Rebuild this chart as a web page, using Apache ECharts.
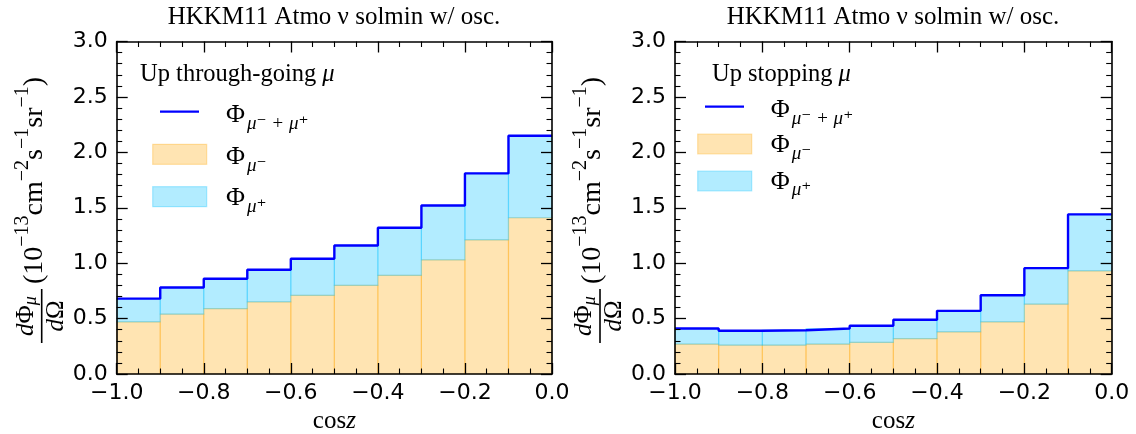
<!DOCTYPE html>
<html>
<head>
<meta charset="utf-8">
<script src="https://cdn.jsdelivr.net/npm/echarts@6/dist/echarts.min.js"></script>
<style>
html,body{margin:0;padding:0;background:#fff;}
#chart{width:1136px;height:434px;}
</style>
</head>
<body>
<div id="chart"></div>
<script>
// ---- data ----
const coszEdges = [-1.0, -0.9, -0.8, -0.7, -0.6, -0.5, -0.4, -0.3, -0.2, -0.1, 0.0];
const throughMuMinus = [0.47, 0.54, 0.59, 0.65, 0.71, 0.80, 0.89, 1.03, 1.21, 1.41];
const throughTotal   = [0.68, 0.78, 0.86, 0.94, 1.04, 1.16, 1.32, 1.52, 1.81, 2.15];
const stopMuMinus    = [0.27, 0.26, 0.26, 0.27, 0.285, 0.32, 0.38, 0.47, 0.63, 0.93];
const stopTotal      = [0.41, 0.39, 0.395, 0.41, 0.435, 0.49, 0.57, 0.71, 0.955, 1.44];
const panelTitles = ['HKKM11 Atmo ν solmin w/ osc.', 'HKKM11 Atmo ν solmin w/ osc.'];
const legendTitles = ['Up through-going', 'Up stopping'];

// ---- style ----
const SERIF = "'Liberation Serif','DejaVu Serif',serif";
const SANS = "'DejaVu Sans',sans-serif";
const ORANGE = 'rgba(255,165,0,0.3)';
const BLUE = 'rgba(0,191,255,0.3)';
const LINE = '#0000ff';

function binRects(lower, upper) {
  return coszEdges.slice(0, -1).map((e, i) => [e, coszEdges[i + 1], lower ? lower[i] : 0, upper[i]]);
}
function stepLine(total) {
  return coszEdges.map((e, i) => [e, total[Math.min(i, total.length - 1)]]);
}
function makeRender(fill) {
  return function (params, api) {
    const p0 = api.coord([api.value(0), api.value(2)]);
    const p1 = api.coord([api.value(1), api.value(3)]);
    return {
      type: 'rect',
      shape: { x: p0[0], y: p1[1], width: p1[0] - p0[0], height: p0[1] - p1[1] },
      style: { fill: fill, stroke: fill, lineWidth: 1.2 }
    };
  };
}
function fmtX(v) {
  const r = Math.round(v * 10) / 10;
  return (r < 0 ? '−' : '') + Math.abs(r).toFixed(1);
}
function fmtY(v) { return (Math.round(v * 10) / 10).toFixed(1); }

const axisLineStyle = { color: '#000', width: 1.6 };
function xAxisDef(grid, pos) {
  const bottom = pos === 'bottom';
  return {
    type: 'value', gridIndex: grid, position: pos, min: -1, max: 0, interval: 0.2, z: 10,
    axisLine: { show: true, onZero: false, lineStyle: axisLineStyle },
    axisTick: { show: true, inside: true, length: 11, lineStyle: { color: '#000', width: 1.3 } },
    minorTick: { show: true, splitNumber: 4, length: 5.5, lineStyle: { color: '#000', width: 1.1 } },
    splitLine: { show: false }, minorSplitLine: { show: false },
    axisLabel: { show: bottom, formatter: fmtX, fontFamily: SANS, fontSize: 22, color: '#000', margin: 8 },
    name: bottom ? '{u|cos}{i|z}' : '',
    nameLocation: 'middle', nameGap: 33,
    nameTextStyle: { rich: {
      u: { fontFamily: SERIF, fontSize: 25, color: '#000' },
      i: { fontFamily: SERIF, fontSize: 25, fontStyle: 'italic', color: '#000' }
    } }
  };
}
function yAxisDef(grid, pos) {
  const left = pos === 'left';
  return {
    type: 'value', gridIndex: grid, position: pos, min: 0, max: 3, interval: 0.5, z: 10,
    axisLine: { show: true, onZero: false, lineStyle: axisLineStyle },
    axisTick: { show: true, inside: true, length: 11, lineStyle: { color: '#000', width: 1.3 } },
    minorTick: { show: true, splitNumber: 5, length: 5.5, lineStyle: { color: '#000', width: 1.1 } },
    splitLine: { show: false }, minorSplitLine: { show: false },
    axisLabel: { show: left, formatter: fmtY, fontFamily: SANS, fontSize: 22, color: '#000', margin: 9 }
  };
}

const phiRich = {
  p: { fontFamily: SERIF, fontSize: 26, lineHeight: 26, verticalAlign: 'top', color: '#000' },
  s: { fontFamily: SERIF, fontSize: 19, fontStyle: 'italic', lineHeight: 19, padding: [12, 0, 0, 2], verticalAlign: 'top', color: '#000' },
  i: { fontFamily: SERIF, fontSize: 24.5, fontStyle: 'italic', color: '#000' },
  t: { fontFamily: SERIF, fontSize: 24.5, color: '#000' }
};

function legendGraphics(g) {
  return [
    { type: 'text', style: { text: '{t|' + g.title + ' }{i|μ}', rich: phiRich, x: g.tx, y: g.ty, verticalAlign: 'middle' } },
    { type: 'line', shape: { x1: g.lx1, y1: g.ly, x2: g.lx2, y2: g.ly }, style: { stroke: LINE, lineWidth: 2.2 } },
    { type: 'text', style: { text: '{p|Φ}{s|μ⁻ + μ⁺}', rich: phiRich, x: g.px, y: g.p1 - 13, verticalAlign: 'top' } },
    { type: 'rect', shape: { x: g.rx, y: g.r1, width: 54, height: 20 }, style: { fill: ORANGE, stroke: ORANGE, lineWidth: 1.2 } },
    { type: 'text', style: { text: '{p|Φ}{s|μ⁻}', rich: phiRich, x: g.px, y: g.p2 - 13, verticalAlign: 'top' } },
    { type: 'rect', shape: { x: g.rx, y: g.r2, width: 54, height: 20 }, style: { fill: BLUE, stroke: BLUE, lineWidth: 1.2 } },
    { type: 'text', style: { text: '{p|Φ}{s|μ⁺}', rich: phiRich, x: g.px, y: g.p3 - 13, verticalAlign: 'top' } }
  ];
}

const ylRich = {
  d: { fontFamily: SERIF, fontSize: 25, fontStyle: 'italic', lineHeight: 25, verticalAlign: 'top', color: '#000' },
  p: { fontFamily: SERIF, fontSize: 25, lineHeight: 25, verticalAlign: 'top', color: '#000' },
  s: { fontFamily: SERIF, fontSize: 18, fontStyle: 'italic', lineHeight: 18, padding: [9, 0, 0, 0], verticalAlign: 'top', color: '#000' },
  m: { fontFamily: SERIF, fontSize: 28, lineHeight: 30, padding: [8, 0, 0, 0], verticalAlign: 'top', color: '#000' },
  u: { fontFamily: SERIF, fontSize: 20, lineHeight: 20, verticalAlign: 'top', color: '#000' }
};
function yLabel(x, y) {
  return {
    type: 'group', x: x, y: y, rotation: Math.PI / 2,
    children: [
      { type: 'line', shape: { x1: 0, y1: 0, x2: 54, y2: 0 }, style: { stroke: '#000', lineWidth: 1.6 } },
      { type: 'text', style: { text: '{d|d}{p|Φ}{s|μ}', rich: ylRich, x: 27, y: -28, align: 'center', verticalAlign: 'top' } },
      { type: 'text', style: { text: '{d|d}{p|Ω}', rich: ylRich, x: 27, y: 2, align: 'center', verticalAlign: 'top' } },
      { type: 'text', style: { text: '{m|(10}{u|−13}{m|cm}{u|−2}{m|s}{u|−1}{m|sr}{u|−1}{m|)}', rich: ylRich, x: 59, y: -29, align: 'left', verticalAlign: 'top' } }
    ]
  };
}

const chart = echarts.init(document.getElementById('chart'), null, { renderer: 'canvas' });
const option = {
  animation: false,
  backgroundColor: '#fff',
  title: [
    { text: panelTitles[0], left: 334, textAlign: 'center', top: 5, padding: 0,
      textStyle: { fontFamily: SERIF, fontSize: 25, fontWeight: 'normal', color: '#000' } },
    { text: panelTitles[1], left: 893, textAlign: 'center', top: 5, padding: 0,
      textStyle: { fontFamily: SERIF, fontSize: 25, fontWeight: 'normal', color: '#000' } }
  ],
  grid: [
    { left: 116.7, right: 584, top: 41.5, bottom: 60, containLabel: false, outerBoundsMode: 'none' },
    { left: 675, right: 24.3, top: 41.5, bottom: 60, containLabel: false, outerBoundsMode: 'none' }
  ],
  xAxis: [xAxisDef(0, 'bottom'), xAxisDef(0, 'top'), xAxisDef(1, 'bottom'), xAxisDef(1, 'top')],
  yAxis: [yAxisDef(0, 'left'), yAxisDef(0, 'right'), yAxisDef(1, 'left'), yAxisDef(1, 'right')],
  series: [
    { name: 'Φμ− (through-going)', type: 'custom', xAxisIndex: 0, yAxisIndex: 0, z: 2,
      renderItem: makeRender(ORANGE), encode: { x: [0, 1], y: [2, 3] }, data: binRects(null, throughMuMinus) },
    { name: 'Φμ+ (through-going)', type: 'custom', xAxisIndex: 0, yAxisIndex: 0, z: 2,
      renderItem: makeRender(BLUE), encode: { x: [0, 1], y: [2, 3] }, data: binRects(throughMuMinus, throughTotal) },
    { name: 'Φμ−+μ+ (through-going)', type: 'line', step: 'end', xAxisIndex: 0, yAxisIndex: 0, z: 5,
      symbol: 'none', lineStyle: { color: LINE, width: 2.4 }, itemStyle: { color: LINE }, data: stepLine(throughTotal) },
    { name: 'Φμ− (stopping)', type: 'custom', xAxisIndex: 2, yAxisIndex: 2, z: 2,
      renderItem: makeRender(ORANGE), encode: { x: [0, 1], y: [2, 3] }, data: binRects(null, stopMuMinus) },
    { name: 'Φμ+ (stopping)', type: 'custom', xAxisIndex: 2, yAxisIndex: 2, z: 2,
      renderItem: makeRender(BLUE), encode: { x: [0, 1], y: [2, 3] }, data: binRects(stopMuMinus, stopTotal) },
    { name: 'Φμ−+μ+ (stopping)', type: 'line', step: 'end', xAxisIndex: 2, yAxisIndex: 2, z: 5,
      symbol: 'none', lineStyle: { color: LINE, width: 2.4 }, itemStyle: { color: LINE }, data: stepLine(stopTotal) }
  ],
  graphic: [
    yLabel(41.7, 343),
    yLabel(600, 343)
  ].concat(
    legendGraphics({ title: legendTitles[0], tx: 140, ty: 75, lx1: 160, lx2: 199, ly: 111.7, px: 226, p1: 115, p2: 157.5, p3: 198, rx: 152.7, r1: 144.3, r2: 186.7 }),
    legendGraphics({ title: legendTitles[1], tx: 712, ty: 75, lx1: 705, lx2: 744, ly: 106.7, px: 770.7, p1: 110, p2: 145, p3: 181.7, rx: 697.7, r1: 134, r2: 171 })
  )
};
chart.setOption(option);
</script>
</body>
</html>
